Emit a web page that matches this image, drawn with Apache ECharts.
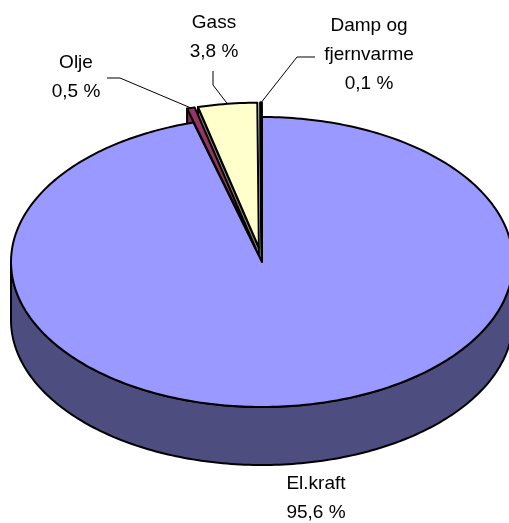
<!DOCTYPE html>
<html>
<head>
<meta charset="utf-8">
<script src="https://cdn.jsdelivr.net/npm/echarts@6/dist/echarts.min.js"></script>
<style>
  html, body { margin: 0; padding: 0; background: #fff; }
  #chart { width: 509px; height: 523px; }
</style>
</head>
<body>
<div id="chart"></div>
<script>
// Energy use by carrier (sums to 100)
const categories = ['El.kraft', 'Olje', 'Gass', 'Damp og\nfjernvarme']
const values = [95.6, 0.5, 3.8, 0.1]
const topColors = ['#9999ff', '#993366', '#ffffcc', '#000000']
const wallColors = ['#4d4d80', '#7a2a5c', '#808066', '#000000']
const explodes = [0, 25, 25, 25]

// pie layout
const cx = 262
const cy = 262
const rx = 251
const ry = 145
const depth = 58

// label centre and leader elbow for each slice
const labelPos = [[316, 498], [76, 77], [214, 37], [369, 55]]
const leaderBend = [null, [[107, 78], [120, 78]], [[213, 71], [213, 85]], [[315, 57], [297, 57]]]

const total = values.reduce((a, b) => a + b, 0)
const sweeps = values.map(v => v / total * 360)

const rad = deg => deg * Math.PI / 180
const rimPoint = (c, deg, dy) => [c[0] + rx * Math.sin(rad(deg)), c[1] - ry * Math.cos(rad(deg)) + dy]

const arcPoints = (c, from, to, dy) => {
  const pts = []
  const n = Math.max(2, Math.ceil(Math.abs(to - from)))
  for (let i = 0; i <= n; i++) {
    pts.push(rimPoint(c, from + (to - from) * i / n, dy))
  }
  return pts
}

const lineStyle = { stroke: '#000', lineWidth: 2, lineJoin: 'round' }

const renderSlice = (params) => {
  const i = params.dataIndex
  let start = 0
  for (let k = 0; k < i; k++) start += sweeps[k]
  const end = start + sweeps[i]
  const mid = (start + end) / 2
  const c = [
    cx + explodes[i] * Math.sin(rad(mid)),
    cy - explodes[i] * ry / rx * Math.cos(rad(mid))
  ]
  const children = []

  // side walls
  if (i === 0) {
    const front = arcPoints(c, 90, 270, 0).concat(arcPoints(c, 270, 90, depth))
    children.push({ type: 'polygon', z2: 2, shape: { points: front }, style: { fill: wallColors[i], ...lineStyle } })
  } else {
    const a = rimPoint(c, start, 0)
    const wall = [c, a, [a[0], a[1] + depth], [c[0], c[1] + depth]]
    children.push({ type: 'polygon', z2: 1, shape: { points: wall }, style: { fill: wallColors[i], ...lineStyle } })
  }

  // top face
  children.push({
    type: 'polygon',
    z2: i === 0 ? 3 : 3 + i,
    shape: { points: [c].concat(arcPoints(c, start, end, 0)) },
    style: { fill: topColors[i], ...lineStyle }
  })

  // leader line
  if (leaderBend[i]) {
    children.push({
      type: 'polyline',
      z2: 8,
      shape: { points: leaderBend[i].concat([rimPoint(c, mid, 0)]) },
      style: { fill: null, stroke: '#000', lineWidth: 1 }
    })
  }

  // label
  children.push({
    type: 'text',
    z2: 9,
    style: {
      text: categories[i] + '\n' + values[i].toFixed(1).replace('.', ',') + ' %',
      x: labelPos[i][0],
      y: labelPos[i][1],
      align: 'center',
      verticalAlign: 'middle',
      fontFamily: 'Liberation Sans',
      fontSize: 19,
      lineHeight: 29,
      fill: '#000'
    }
  })

  return { type: 'group', children }
}

const chart = echarts.init(document.getElementById('chart'))
chart.setOption({
  animation: false,
  backgroundColor: '#fff',
  series: [
    {
      type: 'custom',
      coordinateSystem: 'none',
      renderItem: renderSlice,
      data: values,
      silent: true
    }
  ]
})
</script>
</body>
</html>
